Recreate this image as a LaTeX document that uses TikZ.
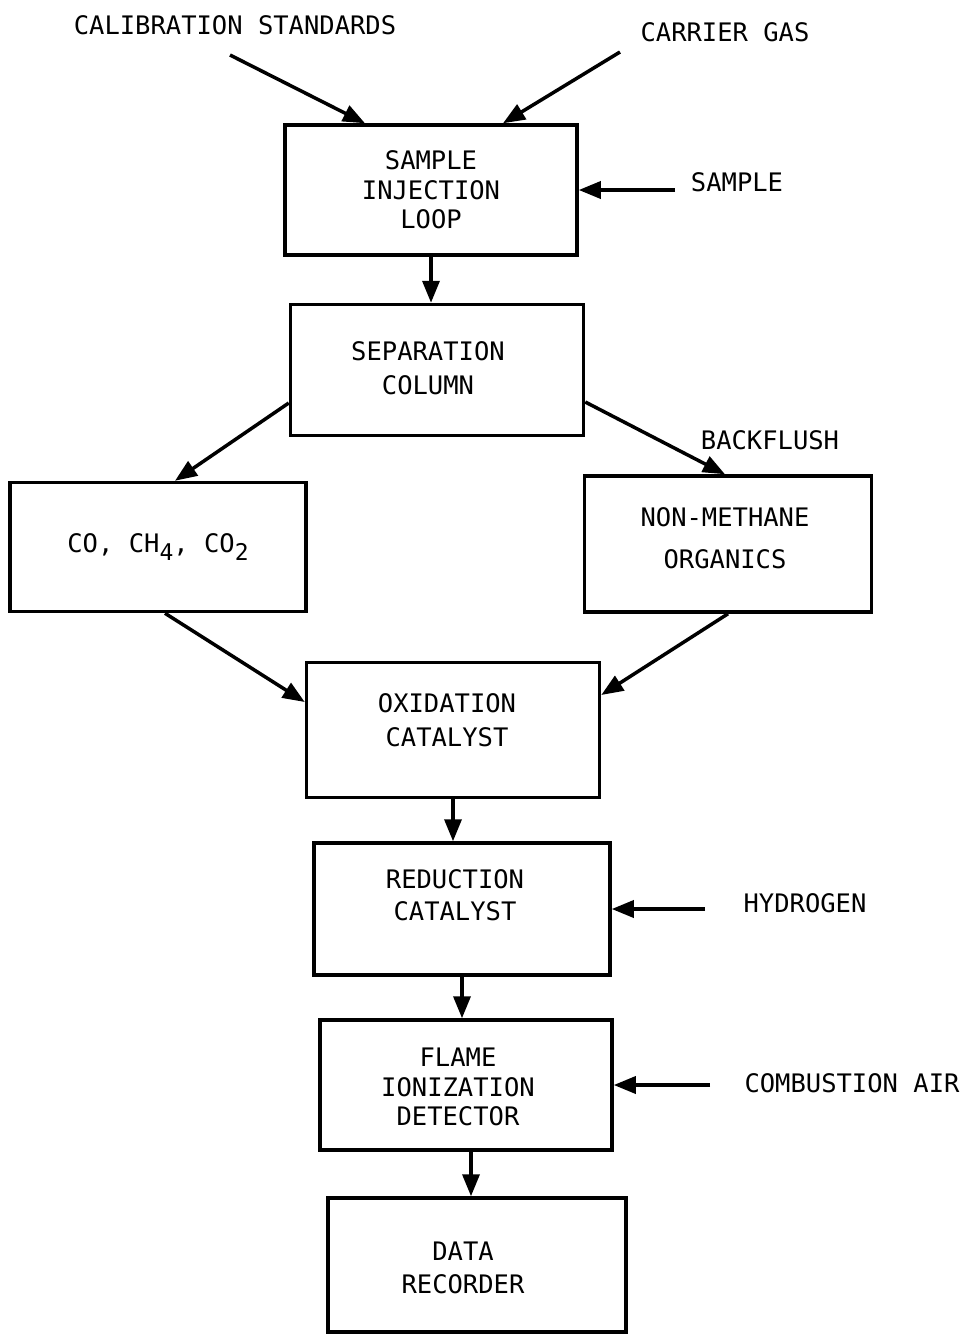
\documentclass[tikz,border=0pt]{standalone}
\usepackage{fontspec}
\newfontfamily\mono{DejaVu Sans Mono}
\usetikzlibrary{arrows.meta}
\begin{document}
\begin{tikzpicture}[x=1pt,y=-1pt,
  txt/.style={font=\mono\fontsize{25.5}{29.5}\selectfont, align=center, inner sep=0pt},
  box/.style={txt, draw, line width=3.5pt},
  arr/.style={line width=3.5pt, -{Triangle[length=22pt,width=17pt]}}]
\fill[white] (0,0) rectangle (969,1334);
\useasboundingbox (0,0) rectangle (969,1334);

% boxes
\node[box, minimum width=292pt, minimum height=130pt] (loop) at (431,190) {SAMPLE\\INJECTION\\LOOP};
\node[box, minimum width=293pt, minimum height=131pt,
  label={[txt,xshift=-9pt,yshift=2pt]center:{SEPARATION\\[4pt]COLUMN}}] (sep) at (437,370) {};
\node[box, minimum width=296pt, minimum height=129pt] (co) at (158,547) {CO, CH\raisebox{-8pt}{\fontsize{23}{23}\selectfont 4}, CO\raisebox{-8pt}{\fontsize{23}{23}\selectfont 2}};
\node[box, minimum width=287pt, minimum height=136pt,
  label={[txt,xshift=-3pt,yshift=6pt]center:{NON-METHANE\\[12pt]ORGANICS}}] (nmo) at (728,544) {};
\node[box, minimum width=293pt, minimum height=135pt,
  label={[txt,xshift=-6pt,yshift=10pt]center:{OXIDATION\\[4pt]CATALYST}}] (ox) at (453,730) {};
\node[box, minimum width=296pt, minimum height=132pt,
  label={[txt,xshift=-7pt,yshift=14pt]center:{REDUCTION\\[3pt]CATALYST}}] (red) at (462,909) {};
\node[box, minimum width=292pt, minimum height=130pt,
  label={[txt,xshift=-8pt,yshift=-2pt]center:{FLAME\\IONIZATION\\DETECTOR}}] (fid) at (466,1085) {};
\node[box, minimum width=298pt, minimum height=134pt,
  label={[txt,xshift=-14pt,yshift=-3pt]center:{DATA\\[4pt]RECORDER}}] (rec) at (477,1265) {};

% labels
\node[txt] (cal) at (235,25) {CALIBRATION STANDARDS};
\node[txt] (car) at (725,32) {CARRIER GAS};
\node[txt] (smp) at (737,182) {SAMPLE};
\node[txt] (bf) at (770,440) {BACKFLUSH};
\node[txt] (hyd) at (805,903) {HYDROGEN};
\node[txt] (air) at (852,1083) {COMBUSTION AIR};

\coordinate (calS) at (230,55);
\coordinate (carS) at (620,52);
\coordinate (smpS) at (675,190);
\coordinate (hydS) at (705,909);
\coordinate (airS) at (710,1085);

% connectors
\draw[arr] (calS) -- ([xshift=-66pt]loop.north);
\draw[arr] (carS) -- ([xshift=72pt]loop.north);
\draw[arr] (smpS) -- (loop.east);
\draw[arr] (loop.south) -- (loop.south |- sep.north);
\draw[arr] ([yshift=-33pt]sep.west) -- ([xshift=17pt]co.north);
\draw[arr] ([yshift=-32pt]sep.east) -- ([xshift=-3pt]nmo.north);
\draw[arr] ([xshift=7pt]co.south) -- ([yshift=28pt]ox.west);
\draw[arr] (nmo.south) -- ([yshift=35pt]ox.east);
\draw[arr] (ox.south) -- (ox.south |- red.north);
\draw[arr] (hydS) -- (red.east);
\draw[arr] (red.south) -- (red.south |- fid.north);
\draw[arr] (airS) -- (fid.east);
\draw[arr] ([xshift=5pt]fid.south) -- ([xshift=5pt]fid.south |- rec.north);
\end{tikzpicture}
\end{document}
